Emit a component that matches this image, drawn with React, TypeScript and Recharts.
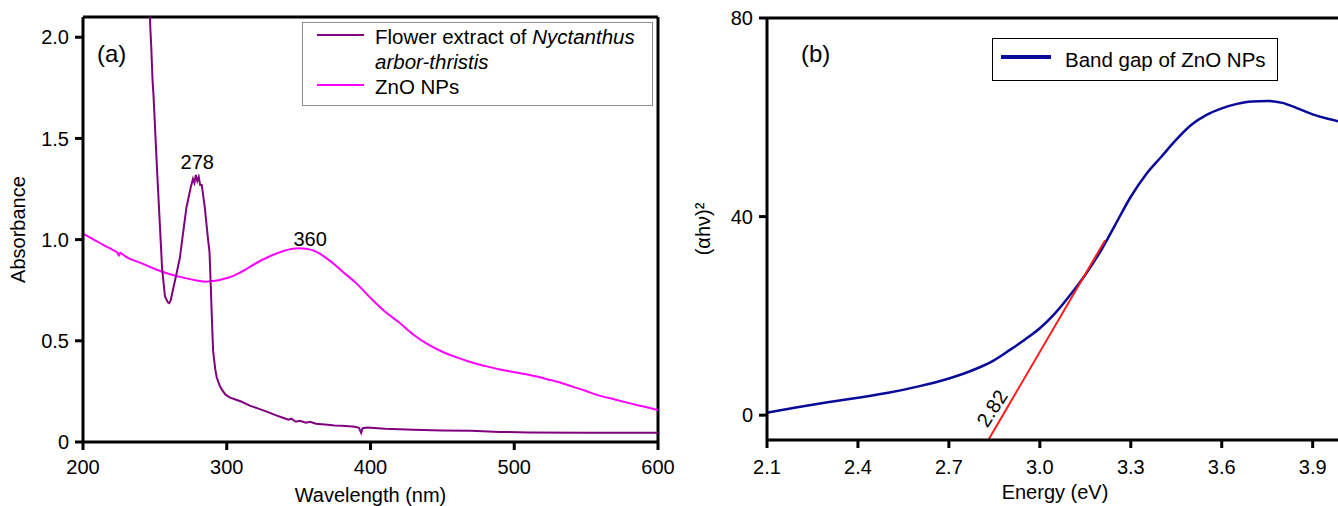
import React from 'react';
import { LineChart, Line, XAxis, YAxis, ReferenceLine, ReferenceDot, Label } from 'recharts';

const FONT = '"Liberation Sans", Arial, Helvetica, sans-serif';

// (a) UV-vis spectra
const extractWavelength = [
  246.2, 246.8, 247.5, 248.3, 248.6, 249.0, 251.4, 254.0, 255.0, 257.0, 259.0, 260.0, 261.0,
  262.5, 265.0, 267.4, 269.0, 272.0, 275.0, 276.5, 277.5, 278.5, 279.5, 280.5, 281.5, 282.6,
  284.7, 287.0, 288.0, 289.0, 289.6, 290.5, 292.0, 293.0, 295.0, 296.5, 299.0, 302.0, 306.0,
  310.0, 316.0, 322.0, 327.8, 333.0, 339.0, 343.0, 345.0, 348.0, 351.0, 355.0, 358.0, 362.0,
  366.0, 370.0, 375.0, 380.0, 385.0, 389.0, 392.0, 393.5, 394.5, 398.0, 410.0, 430.0, 450.0,
  470.0, 490.0, 510.0, 550.0, 600.0,
];
const extractAbsorbance = [
  2.2, 2.05, 1.95, 1.8, 1.76, 1.72, 1.36, 1.0, 0.86, 0.72, 0.69, 0.686, 0.7,
  0.75, 0.83, 0.91, 1.0, 1.16, 1.26, 1.3, 1.28, 1.32, 1.29, 1.31, 1.27, 1.27,
  1.16, 1.0, 0.94, 0.75, 0.62, 0.45, 0.36, 0.32, 0.28, 0.26, 0.235, 0.22, 0.21,
  0.2, 0.18, 0.165, 0.15, 0.135, 0.12, 0.11, 0.115, 0.1, 0.105, 0.095, 0.1, 0.09,
  0.088, 0.085, 0.082, 0.08, 0.078, 0.075, 0.07, 0.045, 0.068, 0.072, 0.065, 0.06, 0.057,
  0.055, 0.05, 0.047, 0.046, 0.046,
];
const znoWavelength = [
  200, 205, 210, 215, 220, 223, 224, 225, 226, 227, 230, 240, 250, 260, 270, 280, 285, 290,
  295, 300, 305, 310, 320, 330, 340, 350, 355, 360, 365, 370, 375, 380, 390, 400, 410, 420, 430,
  440, 450, 460, 470, 480, 490, 500, 510, 520, 525, 530, 540, 550, 557, 570, 580, 590, 600,
];
const znoAbsorbance = [
  1.03, 1.01, 0.99, 0.97, 0.952, 0.94, 0.935, 0.92, 0.935, 0.93, 0.915, 0.885, 0.855, 0.83,
  0.812, 0.797, 0.792, 0.795, 0.8, 0.81, 0.822, 0.84, 0.882, 0.918, 0.945, 0.957, 0.955, 0.947,
  0.93, 0.905, 0.877, 0.845, 0.785, 0.712, 0.645, 0.59, 0.53, 0.482, 0.446, 0.418, 0.394, 0.375,
  0.358, 0.345, 0.332, 0.316, 0.306, 0.298, 0.275, 0.252, 0.234, 0.21, 0.192, 0.175, 0.158,
];
const wavelengthTicks = [200, 300, 400, 500, 600];
const absorbanceTicks = [0, 0.5, 1.0, 1.5, 2.0];
const peakWavelengths = [279.5, 358];
const peakAbsorbance = [1.31, 0.955];
const peakTexts = ['278', '360'];

// (b) Tauc plot
const energy = [
  2.1, 2.2, 2.3, 2.4, 2.5, 2.6, 2.7, 2.75, 2.8, 2.85, 2.9, 2.95, 3.0, 3.05, 3.1, 3.15, 3.2,
  3.25, 3.3, 3.35, 3.4, 3.45, 3.5, 3.55, 3.6, 3.65, 3.7, 3.75, 3.8, 3.85, 3.9, 3.95, 4.0,
];
const bandValue = [
  0.5, 1.6, 2.6, 3.5, 4.5, 5.8, 7.4, 8.4, 9.6, 11.1, 13.1, 15.2, 17.5, 20.5, 24.2, 28.3, 33.0,
  38.5, 44.0, 48.5, 52.0, 55.5, 58.5, 60.5, 61.8, 62.7, 63.2, 63.3, 62.9, 61.8, 60.6, 59.7, 59.0,
];
const tangentEnergy = [2.83, 3.215];
const tangentValue = [-5, 35.2];
const energyTicks = [2.1, 2.4, 2.7, 3.0, 3.3, 3.6, 3.9];
const bandTicks = [0, 40, 80];

const extractData = extractWavelength.map((x, i) => ({ x, y: extractAbsorbance[i] }));
const znoData = znoWavelength.map((x, i) => ({ x, y: znoAbsorbance[i] }));
const bandData = energy.map((x, i) => ({ x, y: bandValue[i] }));
const tangentData = tangentEnergy.map((x, i) => ({ x, y: tangentValue[i] }));

const tickStyle = { fill: '#000', fontSize: 20, fontFamily: FONT };
const labelStyle = { fill: '#000', fontSize: 20, fontFamily: FONT };
const axisLine = { stroke: '#000', strokeWidth: 3 };

const SpectraChart = () => (
  <LineChart width={690} height={506} margin={{ top: 17, right: 32, bottom: 24, left: 13 }}>
    <XAxis
      type="number"
      dataKey="x"
      domain={[200, 600]}
      ticks={wavelengthTicks}
      interval={0}
      allowDataOverflow
      height={40}
      axisLine={axisLine}
      tickLine={axisLine}
      tickSize={8}
      tickMargin={10}
      tick={tickStyle}
    >
      <Label value="Wavelength (nm)" position="bottom" offset={6} style={labelStyle} />
    </XAxis>
    <YAxis
      type="number"
      domain={[0, 2.1]}
      ticks={absorbanceTicks}
      interval={0}
      allowDataOverflow
      width={70}
      axisLine={axisLine}
      tickLine={axisLine}
      tickSize={8}
      tickMargin={6}
      tick={tickStyle}
      tickFormatter={(v: number) => (v === 0 ? '0' : v.toFixed(1))}
    >
      <Label
        value="Absorbance"
        angle={-90}
        position="insideLeft"
        offset={5}
        style={{ ...labelStyle, textAnchor: 'middle' }}
      />
    </YAxis>
    <ReferenceLine y={2.1} stroke="#000" strokeWidth={3} />
    <ReferenceLine x={600} stroke="#000" strokeWidth={3} />
    <Line
      data={znoData}
      dataKey="y"
      type="monotone"
      stroke="#ff00ff"
      strokeWidth={2}
      dot={false}
      isAnimationActive={false}
    />
    <Line
      data={extractData}
      dataKey="y"
      type="linear"
      stroke="#80007f"
      strokeWidth={2}
      dot={false}
      isAnimationActive={false}
    />
    {peakTexts.map((t, i) => (
      <ReferenceDot
        key={t}
        x={peakWavelengths[i]}
        y={peakAbsorbance[i]}
        r={0}
        fill="none"
        stroke="none"
        label={{ value: t, position: 'top', offset: i === 0 ? 8 : 3, style: labelStyle }}
      />
    ))}
  </LineChart>
);

const TaucChart = () => (
  <LineChart width={660} height={506} margin={{ top: 18, right: 7, bottom: 26, left: 9 }}>
    <XAxis
      type="number"
      dataKey="x"
      domain={[2.1, 4.0]}
      ticks={energyTicks}
      interval={0}
      allowDataOverflow
      height={40}
      axisLine={axisLine}
      tickLine={axisLine}
      tickSize={8}
      tickMargin={12}
      tick={tickStyle}
      tickFormatter={(v: number) => v.toFixed(1)}
    >
      <Label value="Energy (eV)" position="bottom" offset={5} style={labelStyle} />
    </XAxis>
    <YAxis
      type="number"
      domain={[-5, 80]}
      ticks={bandTicks}
      interval={0}
      allowDataOverflow
      width={68}
      axisLine={axisLine}
      tickLine={axisLine}
      tickSize={8}
      tickMargin={6}
      tick={tickStyle}
    >
      <Label
        value="(αhν)²"
        angle={-90}
        position="insideLeft"
        offset={4}
        style={{ ...labelStyle, textAnchor: 'middle' }}
      />
    </YAxis>
    <ReferenceLine y={80} stroke="#000" strokeWidth={3} />
    <Line
      data={bandData}
      dataKey="y"
      type="monotone"
      stroke="#0a0a99"
      strokeWidth={2.5}
      dot={false}
      isAnimationActive={false}
    />
    <Line
      data={tangentData}
      dataKey="y"
      type="linear"
      stroke="#ff1a1a"
      strokeWidth={2}
      dot={false}
      isAnimationActive={false}
    />
    <ReferenceDot
      x={2.842}
      y={1.4}
      r={0}
      fill="none"
      stroke="none"
      label={{ value: '2.82', position: 'center', angle: -57, style: labelStyle }}
    />
  </LineChart>
);

const App = () => (
  <div
    style={{
      position: 'absolute',
      left: 0,
      top: 0,
      width: 1338,
      height: 506,
      overflow: 'hidden',
      background: '#fff',
      fontFamily: FONT,
      color: '#000',
    }}
  >
    <div style={{ position: 'absolute', left: 0, top: 0 }}>
      <SpectraChart />
    </div>
    <div style={{ position: 'absolute', left: 690, top: 0 }}>
      <TaucChart />
    </div>

    <div style={{ position: 'absolute', left: 97, top: 40, fontSize: 24, lineHeight: '28px' }}>(a)</div>
    <div style={{ position: 'absolute', left: 801, top: 40, fontSize: 24, lineHeight: '28px' }}>(b)</div>

    {/* legend (a) */}
    <div
      style={{
        position: 'absolute',
        left: 302,
        top: 22,
        width: 351,
        height: 84,
        boxSizing: 'border-box',
        border: '1px solid #8c8c8c',
        background: '#fff',
      }}
    >
      <div style={{ position: 'absolute', left: 14, top: 11, width: 47, height: 2, background: '#80007f' }} />
      <div style={{ position: 'absolute', left: 14, top: 61, width: 47, height: 2, background: '#ff00ff' }} />
      <div style={{ position: 'absolute', left: 72, top: 1, fontSize: 20.5, lineHeight: '25px', whiteSpace: 'nowrap' }}>
        <div>
          Flower extract of <i>Nyctanthus</i>
        </div>
        <div>
          <i>arbor-thristis</i>
        </div>
        <div>ZnO NPs</div>
      </div>
    </div>

    {/* legend (b) */}
    <div
      style={{
        position: 'absolute',
        left: 992,
        top: 38,
        width: 286,
        height: 43,
        boxSizing: 'border-box',
        border: '1px solid #000',
        background: '#fff',
      }}
    >
      <div style={{ position: 'absolute', left: 8, top: 16, width: 50, height: 4, background: '#0a0a99' }} />
      <div style={{ position: 'absolute', left: 72, top: 0, fontSize: 20.5, lineHeight: '41px', whiteSpace: 'nowrap' }}>
        Band gap of ZnO NPs
      </div>
    </div>
  </div>
);

export default App;
